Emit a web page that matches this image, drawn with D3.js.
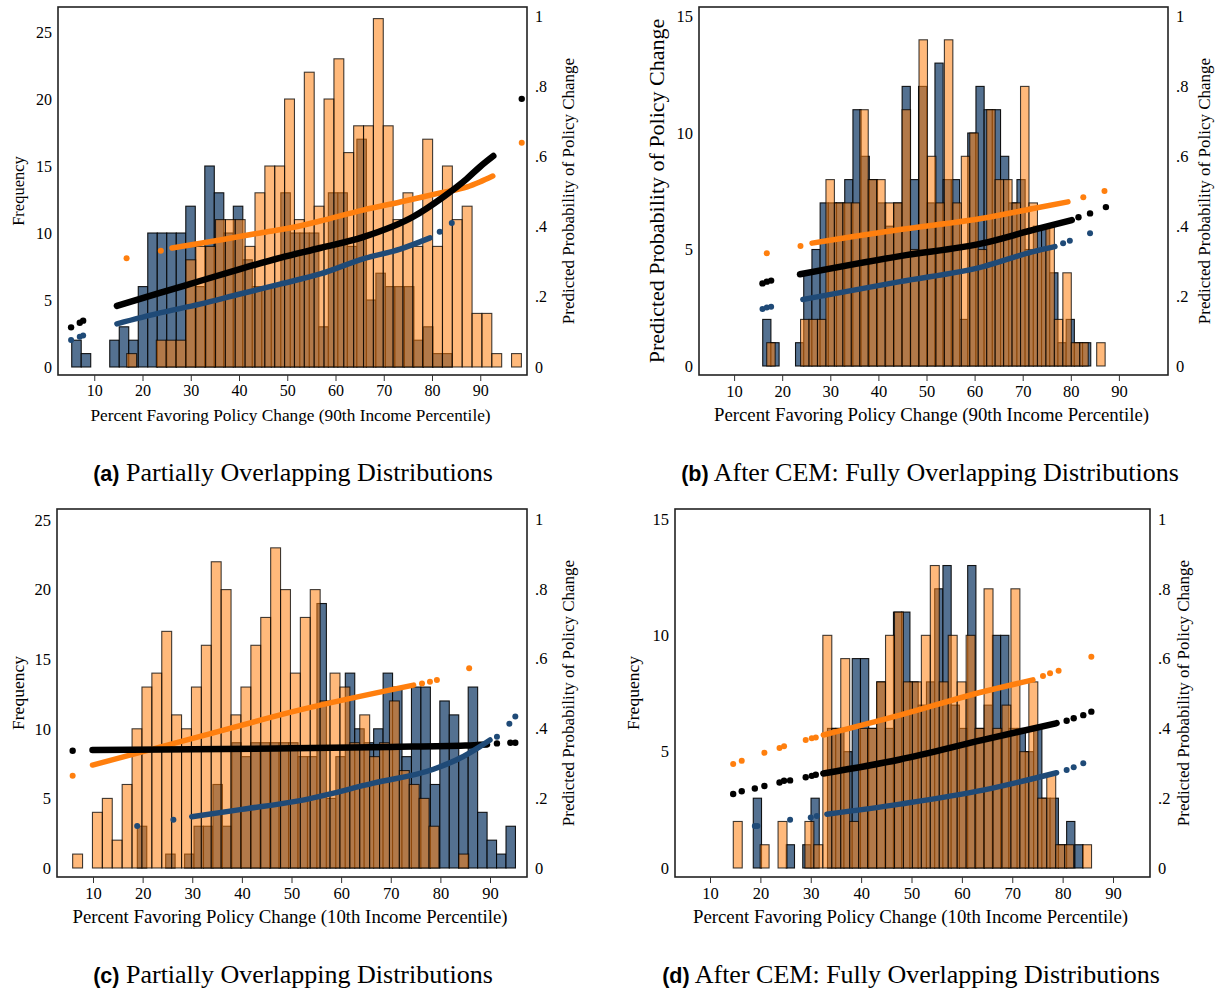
<!DOCTYPE html>
<html>
<head>
<meta charset="utf-8">
<script src="https://cdn.jsdelivr.net/npm/d3@7"></script>
<style>
  body { margin: 0; background: #fff; }
  text { font-family: "Liberation Serif", "DejaVu Serif", serif; fill: #000; }
</style>
</head>
<body>
<script>
// ---- data ----
// histogram bins: [start, width] in percent units, counts per bin
var aBlueBins = [5.33, 1.97];
var aBlueCounts = [2,1,0,0,2,3,2,6,10,10, 10,10,12,6,15,13,10,12,8,6, 6,6,13,10,10,10,3,13,13,9, 17,5,7,6,6,6,2,3,1,1];
var aOrangeBins = [16.73, 2.045];
var aOrangeCounts = [1,0,0,2,2,2,8,9,9,11, 11,11,9,13,15,15,20,11,22,12, 20,23,16,18,18,26,18,11,13,9, 17,9,15,11,12,4,4,1,0,1];

var bBlueBins = [15.95, 1.705];
var bBlueCounts = [2,1,0,0,1,4,5,7,7,7, 8,11,9,8,7,6,7,12,8,12, 7,13,8,8,2,10,12,11,11,9, 7,8,5,6,6,4,1,2,1,1];
var bOrangeBins = [16.78, 1.759];
var bOrangeCounts = [1,0,0,0,2,2,2,8,7,7, 7,11,8,8,7,7,11,5,14,9, 7,14,7,9,10,5,11,8,8,7, 12,7,5,6,2,4,1,1,0,1];

var cBlueBins = [18.93, 1.905];
var cBlueCounts = [3,0,0,1,0,1,3,3,6,3, 9,8,9,9,9,9,9,8,8,19, 5,8,14,10,9,10,14,13,8,13, 13,6,12,11,8,13,4,2,1,3];
var cOrangeBins = [5.9, 1.995];
var cOrangeCounts = [1,0,4,5,2,6,10,13,14,17, 11,10,13,16,22,20,11,13,16,18, 23,20,14,18,20,12,14,13,9,11, 8,9,12,7,6,5,3,0,0,1];

var dBlueBins = [18.59, 1.637];
var dBlueCounts = [3,0,0,0,1,0,1,3,0,6, 6,5,9,9,6,8,6,11,11,8, 7,8,12,13,7,6,13,6,7,10, 10,6,6,5,6,3,3,1,2,1];
var dOrangeBins = [14.62, 1.778];
var dOrangeCounts = [2,0,0,1,0,2,0,0,2,1, 10,6,9,2,6,6,8,10,11,8, 8,10,13,8,10,8,10,6,12,6, 7,12,5,8,3,4,1,1,0,1];

// predicted probabilities: [percent, probability]; "run" = dense stretch, "dots" = lone points
var aBlackRun = [[14.7,.174],[23.6,.211],[31.9,.245],[40.2,.279],[48.5,.311],[56.8,.339],[65.7,.370],[76.1,.428],[82.3,.484],[87.2,.536],[89.9,.570],[92.7,.601]];
var aBlackDots = [[5.2,.113],[7.0,.126],[7.7,.132],[98.6,.764]];
var aOrangeRun = [[26.1,.339],[36.1,.362],[44.4,.382],[51.6,.399],[56.8,.416],[65.7,.447],[73.4,.470],[81.7,.496],[87.3,.513],[89.9,.527],[92.6,.544]];
var aOrangeDots = [[16.7,.310],[23.8,.331],[98.6,.639]];
var aBlueRun = [[14.7,.123],[23.6,.154],[31.9,.179],[40.2,.208],[48.5,.236],[56.8,.265],[65.7,.308],[73.4,.336],[79.6,.368]];
var aBlueDots = [[5.2,.077],[7.0,.086],[7.7,.090],[81.6,.385],[84.1,.410]];

var bBlackRun = [[23.7,.262],[44.5,.314],[61.8,.351],[72.2,.389],[80.2,.417]];
var bBlackDots = [[15.9,.236],[16.8,.241],[17.7,.244],[81.6,.425],[84,.436],[87.3,.454]];
var bOrangeRun = [[26.2,.351],[44.5,.39],[61.7,.422],[72.2,.45],[79.4,.469]];
var bOrangeDots = [[16.8,.322],[23.8,.343],[82.6,.482],[87.0,.50]];
var bBlueRun = [[24.3,.19],[44.5,.241],[61.8,.284],[72.2,.327],[76.7,.341]];
var bBlueDots = [[15.9,.163],[16.8,.167],[17.7,.169],[78.4,.351],[79.8,.358],[84,.379]];

var cBlackRun = [[9.9,.338],[30,.340],[50,.343],[70,.347],[85,.351],[89.4,.354]];
var cBlackDots = [[5.9,.336],[91.4,.357],[94.1,.359],[95.1,.359]];
var cOrangeRun = [[9.9,.295],[31.6,.377],[51.7,.453],[74.6,.524]];
var cOrangeDots = [[5.9,.264],[76.3,.529],[77.9,.534],[79.3,.539],[85.8,.572]];
var cBlueRun = [[29.9,.147],[40,.168],[51.7,.193],[66.5,.243],[78.6,.283],[84,.315],[87.4,.343],[90,.367]];
var cBlueDots = [[18.9,.12],[26.2,.138],[91.4,.376],[93.9,.413],[95.1,.434]];

var dBlackRun = [[32.5,.271],[47.7,.311],[64.2,.367],[78.8,.415]];
var dBlackDots = [[14.6,.212],[16.3,.22],[18.9,.228],[20.8,.235],[23.8,.245],[24.7,.25],[25.9,.251],[29,.26],[30.2,.264],[31,.267],[80.8,.422],[82.2,.429],[84.1,.438],[85.7,.448]];
var dOrangeRun = [[32.5,.381],[47.7,.438],[64.2,.505],[74.1,.539]];
var dOrangeDots = [[14.6,.298],[16.3,.307],[20.8,.33],[23.8,.344],[24.7,.349],[29.0,.367],[30.2,.372],[31.0,.374],[76.1,.55],[77.5,.558],[79.2,.565],[85.7,.605]];
var dBlueRun = [[33.2,.154],[47.7,.183],[64.2,.223],[78.8,.273]];
var dBlueDots = [[18.9,.12],[19.4,.12],[25.9,.138],[30,.145],[31.2,.149],[80.8,.281],[82.2,.289],[84.1,.3]];

// tick labels and texts
var xTicks = [10,20,30,40,50,60,70,80,90];
var probTicks = [0,.2,.4,.6,.8,1];
var freqTicks25 = [0,5,10,15,20,25];
var freqTicks15 = [0,5,10,15];
var probTitle = "Predicted Probability of Policy Change";
var xTitle90 = "Percent Favoring Policy Change (90th Income Percentile)";
var xTitle10 = "Percent Favoring Policy Change (10th Income Percentile)";
var captions = [["(a)", "Partially Overlapping Distributions"], ["(b)", "After CEM: Fully Overlapping Distributions"],
                ["(c)", "Partially Overlapping Distributions"], ["(d)", "After CEM: Fully Overlapping Distributions"]];

// ---- layout ----
var svg = d3.select("body").append("svg")
  .attr("width", 1215)
  .attr("height", 991);

var blueFill = "rgb(84,113,145)";
var orangeFill = "rgb(255,127,14)";
var dotOrange = "#ff7f0e";
var dotBlue = "#1f4a77";

var panels = [
  { blue: aBlueCounts, blueBins: aBlueBins, orange: aOrangeCounts, orangeBins: aOrangeBins,
    black: [aBlackRun, aBlackDots], oran: [aOrangeRun, aOrangeDots], blu: [aBlueRun, aBlueDots],
    frame: [58, 7, 527, 375], x10: 94.25, x90: 480.25, y0: 367, yTopVal: 25, yTop: 32, p1: 16,
    fTicks: freqTicks25, tickSize: 16, leftTitle: "Frequency", leftSize: 16.5, leftX: 24, rightX: 574,
    xTitle: xTitle90, xTitleSize: 17.3, cap: captions[0], capX: 293, capY: 481 },
  { blue: bBlueCounts, blueBins: bBlueBins, orange: bOrangeCounts, orangeBins: bOrangeBins,
    black: [bBlackRun, bBlackDots], oran: [bOrangeRun, bOrangeDots], blu: [bBlueRun, bBlueDots],
    frame: [699, 7, 1168, 375], x10: 734.1, x90: 1118.9, y0: 366, yTopVal: 15, yTop: 16.5, p1: 16,
    fTicks: freqTicks15, tickSize: 16.5, leftTitle: probTitle, leftSize: 22, leftX: 664, rightX: 1210,
    xTitle: xTitle90, xTitleSize: 18.8, cap: captions[1], capX: 930, capY: 481 },
  { blue: cBlueCounts, blueBins: cBlueBins, orange: cOrangeCounts, orangeBins: cOrangeBins,
    black: [cBlackRun, cBlackDots], oran: [cOrangeRun, cOrangeDots], blu: [cBlueRun, cBlueDots],
    frame: [57, 509, 527, 877], x10: 93, x90: 490, y0: 868, yTopVal: 25, yTop: 520, p1: 519,
    fTicks: freqTicks25, tickSize: 16.5, leftTitle: "Frequency", leftSize: 17.5, leftX: 24, rightX: 574,
    xTitle: xTitle10, xTitleSize: 18.8, cap: captions[2], capX: 293, capY: 983 },
  { blue: dBlueCounts, blueBins: dBlueBins, orange: dOrangeCounts, orangeBins: dOrangeBins,
    black: [dBlackRun, dBlackDots], oran: [dOrangeRun, dOrangeDots], blu: [dBlueRun, dBlueDots],
    frame: [675, 509, 1150, 877], x10: 710, x90: 1113, y0: 868, yTopVal: 15, yTop: 519, p1: 519,
    fTicks: freqTicks15, tickSize: 16.5, leftTitle: "Frequency", leftSize: 17.5, leftX: 639, rightX: 1189,
    xTitle: xTitle10, xTitleSize: 18.8, cap: captions[3], capX: 911, capY: 983 }
];

panels.forEach(drawPanel);

function drawHist(g, counts, bins, x, y, fill, opacity, strokeOpacity) {
  var start = bins[0], w = bins[1];
  g.append("g").selectAll("rect")
    .data(counts.map(function(c, i) { return { x0: start + i * w, x1: start + (i + 1) * w, c: c }; })
      .filter(function(d) { return d.c > 0; }))
    .enter()
    .append("rect")
    .attr("x", d => x(d.x0))
    .attr("width", d => x(d.x1) - x(d.x0))
    .attr("y", d => y(d.c))
    .attr("height", d => y(0) - y(d.c))
    .attr("fill", fill)
    .attr("fill-opacity", opacity)
    .attr("stroke", "#000")
    .attr("stroke-opacity", strokeOpacity)
    .attr("stroke-width", 1.1);
}

function drawPoints(g, series, x, yp, color, width, r) {
  var line = d3.line()
    .x(d => x(d[0]))
    .y(d => yp(d[1]))
    .curve(d3.curveMonotoneX);
  g.append("path")
    .datum(series[0])
    .attr("d", line)
    .attr("fill", "none")
    .attr("stroke", color)
    .attr("stroke-width", width)
    .attr("stroke-linecap", "round");
  g.append("g").selectAll("circle")
    .data(series[1])
    .enter()
    .append("circle")
    .attr("cx", d => x(d[0]))
    .attr("cy", d => yp(d[1]))
    .attr("r", r)
    .attr("fill", color);
}

function drawPanel(p) {
  var f = p.frame;
  var x = d3.scaleLinear().domain([10, 90]).range([p.x10, p.x90]);
  var y = d3.scaleLinear().domain([0, p.yTopVal]).range([p.y0, p.yTop]);
  var yp = d3.scaleLinear().domain([0, 1]).range([p.y0, p.p1]);
  var g = svg.append("g");

  // histograms: blue underneath, translucent orange on top
  drawHist(g, p.blue, p.blueBins, x, y, blueFill, 1, 0.9);
  drawHist(g, p.orange, p.orangeBins, x, y, orangeFill, 0.55, 0.75);

  // predicted probabilities
  drawPoints(g, p.oran, x, yp, dotOrange, 5.5, 3);
  drawPoints(g, p.black, x, yp, "#000", 6.5, 3.2);
  drawPoints(g, p.blu, x, yp, dotBlue, 5.5, 3);

  // frame
  g.append("rect")
    .attr("x", f[0]).attr("y", f[1])
    .attr("width", f[2] - f[0]).attr("height", f[3] - f[1])
    .attr("fill", "none")
    .attr("stroke", "#222")
    .attr("stroke-width", 1.6);

  // axes
  var xAxis = g.append("g")
    .attr("transform", `translate(0, ${f[3]})`)
    .call(d3.axisBottom(x).tickValues(xTicks).tickSize(6).tickPadding(4));
  var yAxis = g.append("g")
    .attr("transform", `translate(${f[0]}, 0)`)
    .call(d3.axisLeft(y).tickValues(p.fTicks).tickSize(0).tickPadding(6));
  var rAxis = g.append("g")
    .attr("transform", `translate(${f[2]}, 0)`)
    .call(d3.axisRight(yp).tickValues(probTicks).tickSize(0).tickPadding(8)
      .tickFormat(d => d === 0 ? "0" : d === 1 ? "1" : d3.format(".1f")(d).replace(/^0/, "")));
  [xAxis, yAxis, rAxis].forEach(function(a) {
    a.select(".domain").remove();
    a.selectAll("text").attr("font-family", "Liberation Serif").attr("font-size", p.tickSize).attr("fill", "#000");
    a.selectAll("line").attr("stroke", "#333");
  });

  // axis titles
  g.append("text")
    .attr("transform", `translate(${p.leftX}, ${(f[1] + f[3]) / 2}) rotate(-90)`)
    .attr("text-anchor", "middle")
    .attr("font-size", p.leftSize)
    .text(p.leftTitle);
  g.append("text")
    .attr("transform", `translate(${p.rightX}, ${(f[1] + f[3]) / 2}) rotate(-90)`)
    .attr("text-anchor", "middle")
    .attr("font-size", 17)
    .text(probTitle);
  g.append("text")
    .attr("x", (f[0] + f[2]) / 2 - 2)
    .attr("y", f[3] + 46)
    .attr("text-anchor", "middle")
    .attr("font-size", p.xTitleSize)
    .text(p.xTitle);

  // caption
  var cap = g.append("text")
    .attr("x", p.capX)
    .attr("y", p.capY)
    .attr("text-anchor", "middle");
  cap.append("tspan")
    .attr("font-family", "'Liberation Sans Narrow', 'Liberation Sans', sans-serif")
    .attr("font-weight", "bold")
    .attr("font-size", 21.5)
    .text(p.cap[0]);
  cap.append("tspan")
    .attr("font-family", "'Liberation Serif', serif")
    .attr("font-size", 26)
    .text(" " + p.cap[1]);
}
</script>
</body>
</html>
